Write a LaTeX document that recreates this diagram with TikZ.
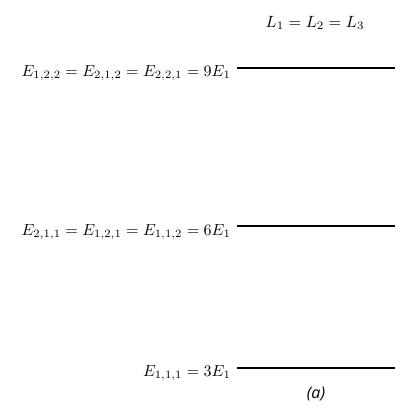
\documentclass[tikz,border=0pt]{standalone}
\usepackage{fontspec}
\newfontfamily\capfont{Open Sans}
\begin{document}
\begin{tikzpicture}[x=1pt,y=-1pt,
  level/.style={line width=2pt},
  lab/.style={anchor=east,inner sep=0pt,scale=1.6}]
\useasboundingbox (0,0) rectangle (420,420);
\fill[white] (0,0) rectangle (420,420);
\coordinate (a1) at (237,68);  \coordinate (b1) at (395,68);
\coordinate (a2) at (237,226); \coordinate (b2) at (395,226);
\coordinate (a3) at (237,368); \coordinate (b3) at (395,368);
\draw[level] (a1) -- (b1);
\draw[level] (a2) -- (b2);
\draw[level] (a3) -- (b3);
\node[lab] (t1) at (231,73) {$E_{1,2,2}=E_{2,1,2}=E_{2,2,1}=9E_1$};
\node[lab] (t2) at (231,232) {$E_{2,1,1}=E_{1,2,1}=E_{1,1,2}=6E_1$};
\node[lab] (t3) at (231,373) {$E_{1,1,1}=3E_1$};
\node[inner sep=0pt,scale=1.63] (L) at (315,23) {$L_1=L_2=L_3$};
\node[font=\capfont\itshape\fontsize{16}{18}\selectfont,inner sep=0pt] (cap) at (316,394) {(a)};
\end{tikzpicture}
\end{document}
